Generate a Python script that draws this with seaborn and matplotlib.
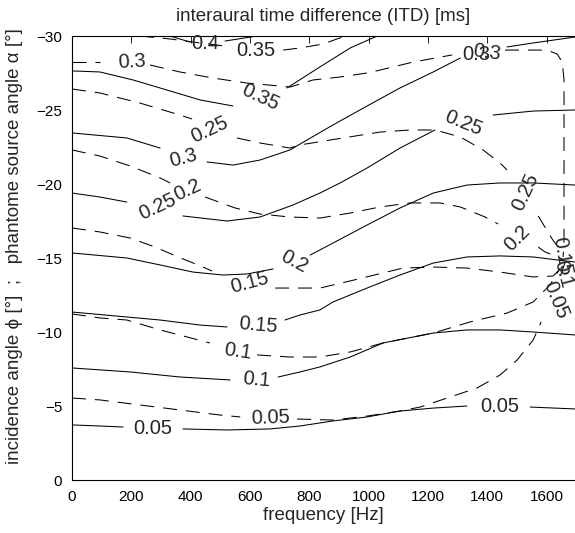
import numpy as np
import pandas as pd
import matplotlib
matplotlib.use("Agg")
import matplotlib.pyplot as plt
import seaborn as sns

nan = np.nan

# ITD contours for the real source (solid): frequency [Hz] / incidence angle [deg]
# nan = gap where MATLAB put the inline label
itd05_f = [0, 94, 172, nan, 374, 523, 668, 769, 880, 995, 1106, 1218, 1332, nan, 1545, 1696]
itd05_a = [-3.72, -3.65, -3.58, nan, -3.45, -3.38, -3.45, -3.65, -3.99, -4.26, -4.66, -4.86, -5.0, nan, -4.93, -4.80]
itd10_f = [0, 196, 364, 533, nan, 695, 769, 836, 938, 1049, 1218, 1332, 1443, 1555, 1696]
itd10_a = [-7.57, -7.30, -6.96, -6.76, nan, -6.96, -7.30, -7.64, -8.31, -9.26, -9.93, -10.14, -10.14, -10.0, -9.80]
itd15_f = [0, 297, 432, 523, nan, 718, 769, 836, 880, 995, 1106, 1218, 1332, 1443, 1555, 1639, 1696]
itd15_a = [-11.35, -10.81, -10.47, -10.34, nan, -10.81, -11.15, -11.49, -12.03, -12.97, -13.85, -14.66, -15.07, -15.14, -15.07, -14.86, -14.73]
itd20_f = [0, 185, 297, 408, 509, 590, 678, nan, 803, 880, 995, 1106, 1218, 1332, 1443, 1555, 1696]
itd20_a = [-15.34, -15.0, -14.53, -14.05, -13.85, -13.92, -14.26, nan, -15.20, -16.01, -17.23, -18.38, -19.39, -19.93, -20.07, -20.07, -19.93]
itd25_f = [0, 94, 185, nan, 374, 523, 634, 745, 836, 904, 995, 1106, 1224, nan, 1420, 1555, 1696]
itd25_a = [-19.39, -19.12, -18.78, nan, -17.84, -17.50, -17.77, -18.58, -19.39, -20.07, -21.08, -22.43, -23.65, nan, -24.66, -24.93, -25.0]
itd30_f = [0, 185, 297, nan, 455, 543, 634, 735, 769, 880, 995, 1106, 1218, 1309, nan, 1467, 1555, 1696]
itd30_a = [-23.45, -23.11, -22.43, nan, -21.49, -21.28, -21.62, -22.30, -22.70, -23.99, -25.27, -26.49, -27.57, -28.51, nan, -29.26, -29.53, -29.93]
itd35_f = [0, 94, 206, 320, 432, 543, nan, 725, 836, 938, 1029]
itd35_a = [-27.64, -27.57, -27.03, -26.35, -25.68, -25.27, nan, -26.49, -27.91, -29.19, -30.0]
itd40_f = [330, 398, nan, 516, 624]
itd40_a = [-30.0, -29.59, nan, -29.66, -30.0]

# same ITD values for the phantom source (dashed): frequency / phantom angle
ph05_f = [0, 94, 229, 364, 499, 567, nan, 759, 880, 995, 1106, 1174, 1265, 1366, 1443, 1501, 1555, 1582, nan, 1649, 1663]
ph05_a = [-5.54, -5.41, -5.07, -4.73, -4.39, -4.26, nan, -4.12, -4.05, -4.32, -4.66, -4.93, -5.54, -6.22, -7.09, -8.11, -9.46, -10.68, nan, -13.92, -14.73]
ph10_f = [0, 94, 185, 297, 465, nan, 624, 735, 836, 938, 1049, 1218, 1342, 1467, 1555, 1612, 1646]
ph10_a = [-11.22, -10.95, -10.81, -10.14, -9.26, nan, -8.45, -8.31, -8.31, -8.65, -9.26, -9.93, -10.68, -11.28, -12.03, -13.18, -14.32]
ph15_f = [0, 94, 196, 280, 358, 442, 472, nan, 685, 769, 836, 938, 1116, 1218, 1332, 1443, 1555, 1622, 1656]
ph15_a = [-17.03, -16.76, -16.35, -15.74, -15.07, -14.39, -14.12, nan, -12.97, -12.97, -12.97, -13.45, -14.32, -14.39, -14.32, -14.05, -13.72, -13.78, -14.46]
ph20_f = [0, 94, 196, 297, 331, nan, 449, 550, 634, 735, 836, 938, 1039, 1140, 1241, 1309, 1393, 1437, nan, 1572, 1595, 1653]
ph20_a = [-22.30, -21.89, -21.22, -20.41, -20.07, nan, -19.12, -18.38, -17.97, -17.77, -17.70, -18.04, -18.45, -18.72, -18.72, -18.45, -17.77, -17.30, nan, -15.74, -15.41, -14.93]
ph25_f = [0, 94, 229, 364, 405, nan, 556, 634, 735, 769, 870, 1039, 1140, 1224, 1309, 1386, 1443, 1467, nan, 1572, 1619, 1646]
ph25_a = [-26.42, -26.15, -25.47, -24.66, -24.39, nan, -23.11, -22.77, -22.43, -22.64, -22.97, -23.51, -23.65, -23.65, -23.18, -22.30, -21.42, -20.95, nan, -17.84, -16.28, -15.54]
ph30_f = [0, 94, nan, 263, 364, 475, 590, 701, 735, 813, 904, 995, 1039, 1150, 1282, nan, 1460, 1602, 1636, 1653, 1659, 1659, 1659, 1656]
ph30_a = [-28.24, -28.24, nan, -28.04, -27.57, -27.16, -26.82, -26.62, -26.55, -27.03, -27.23, -27.50, -27.70, -28.24, -28.72, nan, -29.05, -29.05, -28.78, -28.24, -27.03, -22.30, -16.22, -15.07]
ph35_f = [229, 330, 432, 516, nan, 712, 769, 847, 921]
ph35_a = [-30.0, -29.80, -29.53, -29.32, nan, -29.05, -29.19, -29.46, -30.0]

# inline contour labels: text, frequency, angle, rotation
labels = [
    ("0.05", 273, -3.51, 0), ("0.05", 1443, -5.0, 0),
    ("0.1", 621, -6.76, -5), ("0.15", 627, -10.47, -5),
    ("0.2", 749, -14.73, -28),
    ("0.25", 287, -18.45, 25), ("0.25", 1319, -24.12, -22),
    ("0.3", 374, -21.76, 15), ("0.3", 1363, -28.78, 0),
    ("0.35", 634, -25.88, -25), ("0.4", 449, -29.46, 0),
    ("0.05", 668, -4.19, 2), ("0.05", 1632, -12.16, -68),
    ("0.1", 560, -8.65, -8), ("0.15", 600, -13.31, 15),
    ("0.2", 391, -19.59, 25), ("0.2", 1501, -16.35, 45),
    ("0.25", 465, -23.65, 25), ("0.25", 1528, -19.46, 65),
    ("0.3", 202, -28.24, 3), ("0.3", 1400, -28.9, -8),
    ("0.35", 621, -29.05, 0),
    ("0.1", 1655, -13.9, -75), ("0.15", 1651, -15.1, -80),
]

contours = {
    ("ITD", "0.05"): (itd05_f, itd05_a), ("ITD", "0.1"): (itd10_f, itd10_a),
    ("ITD", "0.15"): (itd15_f, itd15_a), ("ITD", "0.2"): (itd20_f, itd20_a),
    ("ITD", "0.25"): (itd25_f, itd25_a), ("ITD", "0.3"): (itd30_f, itd30_a),
    ("ITD", "0.35"): (itd35_f, itd35_a), ("ITD", "0.4"): (itd40_f, itd40_a),
    ("phantom", "0.05"): (ph05_f, ph05_a), ("phantom", "0.1"): (ph10_f, ph10_a),
    ("phantom", "0.15"): (ph15_f, ph15_a), ("phantom", "0.2"): (ph20_f, ph20_a),
    ("phantom", "0.25"): (ph25_f, ph25_a), ("phantom", "0.3"): (ph30_f, ph30_a),
    ("phantom", "0.35"): (ph35_f, ph35_a),
}

rows = []
for (kind, lev), (fs, angs) in contours.items():
    seg = 0
    for f, a in zip(fs, angs):
        if np.isnan(f):
            seg += 1
            continue
        rows.append((f, a, kind, f"{kind}_{lev}_{seg}"))
df = pd.DataFrame(rows, columns=["freq", "angle", "kind", "seg"])

sns.set_style("white")
plt.rcParams["font.family"] = ["Liberation Sans", "DejaVu Sans"]

fig = plt.figure(figsize=(5.75, 5.33), dpi=100)
ax = fig.add_axes([72 / 575, 53 / 533, 503 / 575, 444 / 533])

sns.lineplot(data=df, x="freq", y="angle", units="seg", estimator=None, sort=False,
             style="kind", style_order=["ITD", "phantom"],
             dashes={"ITD": "", "phantom": (13.4, 8.6)},
             color="black", linewidth=0.75, legend=False, ax=ax)

for txt, f, a, rot in labels:
    ax.text(f, a, txt, fontsize=14.5, ha="center", va="center",
            rotation=rot, rotation_mode="anchor")

ax.set_xlim(0, 1696)
ax.set_ylim(0, -30)
ax.set_xticks(np.arange(0, 1601, 200))
ax.set_yticks(np.arange(-30, 1, 5))
ax.tick_params(direction="in", top=True, right=False, length=5, width=0.6,
               labelsize=11, colors="black", pad=7)
for s in ["left", "bottom", "top"]:
    ax.spines[s].set_color("black")
    ax.spines[s].set_linewidth(0.8)
ax.spines["right"].set_visible(False)

ax.set_title("interaural time difference (ITD) [ms]", fontsize=13.5, pad=11)
ax.set_xlabel("frequency [Hz]", fontsize=13.5, labelpad=2)
ax.set_ylabel("incidence angle \u03d5 [\u00b0]  ;   phantome source angle \u03b1 [\u00b0]", fontsize=13.5)
ax.yaxis.set_label_coords(-0.097, 0.527)

fig.savefig("out.png", dpi=100)
